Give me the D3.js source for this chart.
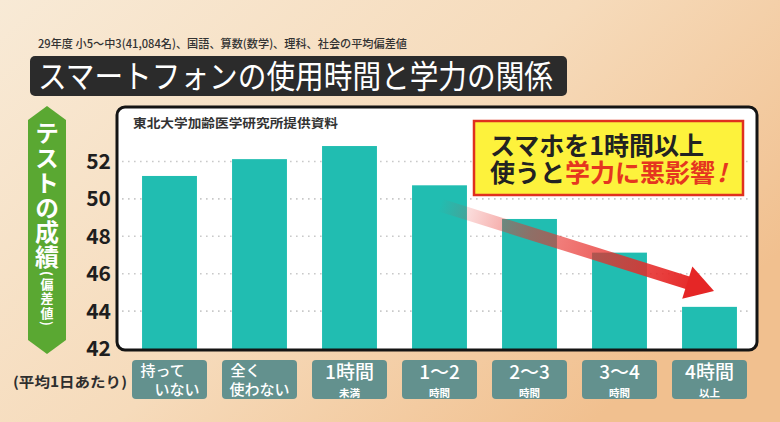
<!DOCTYPE html>
<html>
<head>
<meta charset="utf-8">
<script src="https://cdn.jsdelivr.net/npm/d3@7"></script>
<style>
  body { margin: 0; background: #f6dcbd; }
  svg { display: block; }
  text { font-family: "Noto Sans CJK JP", "Noto Sans", sans-serif; }
</style>
</head>
<body>
<svg id="chart" width="780" height="422"></svg>
<script>
var categories = ["持っていない", "全く使わない", "1時間未満", "1〜2時間", "2〜3時間", "3〜4時間", "4時間以上"];
var labelTop = ["持って", "全く", "1時間", "1〜2", "2〜3", "3〜4", "4時間"];
var labelBottom = ["いない", "使わない", "未満", "時間", "時間", "時間", "以上"];
var scores = [51.2, 52.1, 52.8, 50.7, 48.9, 47.1, 44.2];
var yTicks = [42, 44, 46, 48, 50, 52];
var subtitle = "29年度 小5〜中3(41,084名)、国語、算数(数学)、理科、社会の平均偏差値";
var title = "スマートフォンの使用時間と学力の関係";
var source = "東北大学加齢医学研究所提供資料";
var yTitle = "テストの成績";
var yTitleSub = "(偏差値)";

var svg = d3.select("#chart");
var defs = svg.append("defs");

var bg = defs.append("linearGradient").attr("id", "bg")
    .attr("x1", "0").attr("y1", "0").attr("x2", "1").attr("y2", "0.6");
bg.append("stop").attr("offset", "0").attr("stop-color", "#f8ead6");
bg.append("stop").attr("offset", "0.55").attr("stop-color", "#f6dbbb");
bg.append("stop").attr("offset", "1").attr("stop-color", "#f1c08f");

var arrowGrad = defs.append("linearGradient").attr("id", "arrowGrad")
    .attr("gradientUnits", "userSpaceOnUse")
    .attr("x1", 440).attr("y1", 205).attr("x2", 700).attr("y2", 287);
arrowGrad.append("stop").attr("offset", "0").attr("stop-color", "#e8302a").attr("stop-opacity", 0);
arrowGrad.append("stop").attr("offset", "0.35").attr("stop-color", "#e8302a").attr("stop-opacity", 0.55);
arrowGrad.append("stop").attr("offset", "1").attr("stop-color", "#e52626").attr("stop-opacity", 1);

svg.append("rect").attr("width", 780).attr("height", 422).attr("fill", "url(#bg)");

// header
svg.append("text")
    .attr("x", 38).attr("y", 48)
    .attr("font-size", 11.5)
    .attr("font-weight", 500)
    .attr("fill", "#333")
    .attr("textLength", 369)
    .attr("lengthAdjust", "spacingAndGlyphs")
    .text(subtitle);

svg.append("rect")
    .attr("x", 30).attr("y", 56).attr("width", 537).attr("height", 40)
    .attr("rx", 5)
    .attr("fill", "#2b2b2b");

svg.append("text")
    .attr("x", 38).attr("y", 88)
    .attr("font-size", 32)
    .attr("font-weight", 400)
    .attr("fill", "#ffffff")
    .attr("textLength", 515)
    .attr("lengthAdjust", "spacingAndGlyphs")
    .text(title);

// chart frame
var frame = { left: 117, top: 107, right: 757, bottom: 350 };

svg.append("rect")
    .attr("x", frame.left).attr("y", frame.top)
    .attr("width", frame.right - frame.left).attr("height", frame.bottom - frame.top)
    .attr("rx", 8)
    .attr("fill", "#ffffff");

var x = d3.scaleBand()
    .domain(categories)
    .range([124.5, 754.5])
    .paddingInner(0.39)
    .paddingOuter(0.195);

var y = d3.scaleLinear()
    .domain([42, 52])
    .range([348, 161]);

// grid
svg.append("g")
    .attr("class", "grid")
    .attr("transform", "translate(" + (frame.left + 5) + ",0)")
    .call(d3.axisLeft(y).tickValues(yTicks.slice(1)).tickSize(-(frame.right - frame.left - 10)).tickFormat(""))
    .call(function (g) {
        g.select(".domain").remove();
        g.selectAll("line")
            .attr("stroke", "#c9c9c9")
            .attr("stroke-width", 1.6)
            .attr("stroke-dasharray", "1.6,4.4");
    });

svg.append("g")
    .selectAll("rect")
    .data(scores)
    .join("rect")
    .attr("x", function (d, i) { return x(categories[i]); })
    .attr("width", x.bandwidth())
    .attr("y", function (d) { return y(d); })
    .attr("height", function (d) { return frame.bottom - y(d); })
    .attr("fill", "#21bdb1");

svg.append("rect")
    .attr("x", frame.left).attr("y", frame.top)
    .attr("width", frame.right - frame.left).attr("height", frame.bottom - frame.top)
    .attr("rx", 8)
    .attr("fill", "none")
    .attr("stroke", "#141414")
    .attr("stroke-width", 3);

svg.append("text")
    .attr("x", 133).attr("y", 128)
    .attr("font-size", 12.5)
    .attr("font-weight", 700)
    .attr("fill", "#333")
    .attr("textLength", 205)
    .attr("lengthAdjust", "spacingAndGlyphs")
    .text(source);

// y axis labels
svg.append("g")
    .attr("transform", "translate(111,0)")
    .call(d3.axisLeft(y).tickValues(yTicks).tickSize(0).tickPadding(0))
    .call(function (g) {
        g.select(".domain").remove();
        g.selectAll("text")
            .attr("font-family", "'Liberation Sans', Arial, sans-serif")
            .attr("font-size", 21)
            .attr("font-weight", 700)
            .attr("fill", "#1e1e1e")
            .attr("dy", "0.36em");
    });

// green y title
svg.append("path")
    .attr("d", "M47,106 L66,120 L66,340 L47,354 L28,340 L28,120 Z")
    .attr("fill", "#5aa832");

svg.append("text")
    .attr("x", 47).attr("y", 121)
    .attr("style", "writing-mode: vertical-rl; letter-spacing: 0.8px")
    .attr("font-size", 24)
    .attr("font-weight", 700)
    .attr("fill", "#ffffff")
    .text(yTitle);

svg.append("text")
    .attr("x", 47).attr("y", 271)
    .attr("style", "writing-mode: vertical-rl; letter-spacing: 1.5px")
    .attr("font-size", 13)
    .attr("font-weight", 700)
    .attr("fill", "#ffffff")
    .text(yTitleSub);

// category boxes
svg.append("text")
    .attr("x", 13).attr("y", 387)
    .attr("font-size", 14)
    .attr("font-weight", 700)
    .attr("fill", "#2e2e2e")
    .attr("textLength", 114)
    .attr("lengthAdjust", "spacingAndGlyphs")
    .text("(平均1日あたり)");

var cat = svg.append("g")
    .selectAll("g")
    .data(categories)
    .join("g")
    .attr("transform", function (d) { return "translate(" + (x(d) + x.bandwidth() / 2) + ",0)"; });

cat.append("rect")
    .attr("x", -37.5).attr("y", 360)
    .attr("width", 75).attr("height", 39)
    .attr("rx", 4)
    .attr("fill", "#63918e");

cat.each(function (d, i) {
    var t = d3.select(this).append("text")
        .attr("fill", "#ffffff");
    if (i < 2) {
        t.attr("font-size", 15).attr("font-weight", 500);
        t.append("tspan").attr("x", -29).attr("y", 376).text(labelTop[i]);
        t.append("tspan").attr("x", 30).attr("y", 395)
            .attr("text-anchor", "end")
            .text(labelBottom[i]);
    } else {
        t.attr("text-anchor", "middle");
        t.append("tspan").attr("x", 0).attr("y", 379)
            .attr("font-size", 19).attr("font-weight", 500)
            .text(labelTop[i]);
        t.append("tspan").attr("x", 0).attr("y", 396.5)
            .attr("font-size", 10.5).attr("font-weight", 700)
            .text(labelBottom[i]);
    }
});

// annotation box
svg.append("rect")
    .attr("x", 474).attr("y", 121).attr("width", 269).attr("height", 74)
    .attr("fill", "#fdf23c")
    .attr("stroke", "#e0301e")
    .attr("stroke-width", 2.5);

var note = svg.append("text")
    .attr("font-size", 25).attr("font-weight", 700)
    .attr("fill", "#222");
note.append("tspan").attr("x", 490).attr("y", 155).text("スマホを1時間以上");
note.append("tspan").attr("x", 490).attr("y", 182).text("使うと");
note.append("tspan").attr("fill", "#e5361f").text("学力に悪影響");
note.append("tspan").attr("fill", "#e5361f").attr("font-style", "italic").attr("dx", 2).text("!");

// trend arrow
var tail = [440, 205], tip = [714, 291];
var dx = tip[0] - tail[0], dy = tip[1] - tail[1];
var len = Math.sqrt(dx * dx + dy * dy);
var ux = dx / len, uy = dy / len;
var base = [tip[0] - 28 * ux, tip[1] - 28 * uy];

svg.append("line")
    .attr("x1", tail[0]).attr("y1", tail[1])
    .attr("x2", base[0] + 2 * ux).attr("y2", base[1] + 2 * uy)
    .attr("stroke", "url(#arrowGrad)")
    .attr("stroke-width", 13);

svg.append("path")
    .attr("d", "M" + tip[0] + "," + tip[1] +
        " L" + (base[0] - 17 * uy) + "," + (base[1] + 17 * ux) +
        " L" + (base[0] + 17 * uy) + "," + (base[1] - 17 * ux) + " Z")
    .attr("fill", "#e52626");
</script>
</body>
</html>
